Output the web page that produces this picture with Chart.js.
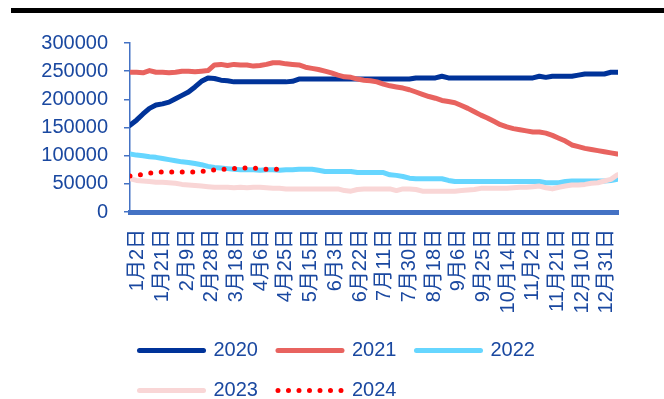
<!DOCTYPE html>
<html>
<head>
<meta charset="utf-8">
<script src="https://cdn.jsdelivr.net/npm/chart.js@4"></script>
<style>
	body { margin: 0; background: #fff; }
	#wrap { position: relative; width: 664px; height: 399px; }
	#topLine { position: absolute; left: 11px; top: 8px; width: 653px; height: 5px; background: #000; }
</style>
</head>
<body>
<div id="wrap">
	<div id="topLine"></div>
	<canvas id="stockCanvas" width="664" height="399"></canvas>
</div>
<script>
// 날짜 (1월2일 = 0 기준 일수)
const days = [-6, -1, 4, 9, 14, 19, 24, 29, 34, 39, 44, 49, 54, 59, 64, 69, 74, 79, 84, 89,
	94, 99, 104, 109, 114, 119, 124, 129, 134, 139, 144, 149, 154, 159, 164, 169, 174, 179, 184, 189,
	194, 199, 204, 209, 214, 219, 224, 229, 234, 239, 244, 249, 254, 259, 264, 269, 274, 279, 284, 289,
	294, 299, 304, 309, 314, 319, 324, 329, 334, 339, 344, 349, 354, 359, 364, 369];

// x축 눈금
const tickDays = [0, 19, 38, 57, 76, 95, 114, 133, 152, 171, 190, 209, 228, 247, 266, 285, 304, 323, 342, 361];
const tickLabels = ['1月2日', '1月21日', '2月9日', '2月28日', '3月18日', '4月6日', '4月25日', '5月15日', '6月3日', '6月22日',
	'7月11日', '7月30日', '8月18日', '9月6日', '9月25日', '10月14日', '11月2日', '11月21日', '12月10日', '12月31日'];

const s2020 = [154000, 163000, 174000, 184000, 190000, 192000, 195000, 201000, 207000, 213000,
	222000, 232000, 238000, 237000, 234000, 233000, 231000, 231000, 231000, 231000,
	231000, 231000, 231000, 231000, 231000, 232000, 236000, 236000, 236000, 236000,
	236000, 236000, 236000, 236000, 236000, 236000, 236000, 236000, 236000, 236000,
	236000, 236000, 236000, 236000, 238000, 238000, 238000, 238000, 241000, 238000,
	238000, 238000, 238000, 238000, 238000, 238000, 238000, 238000, 238000, 238000,
	238000, 238000, 238000, 241000, 239000, 241000, 241000, 241000, 241000, 243000,
	245000, 245000, 245000, 245000, 248000, 248000];
const s2021 = [248000, 248000, 247000, 251000, 248000, 248000, 247000, 248000, 250000, 250000,
	249000, 250000, 251000, 261000, 262000, 260000, 262000, 261000, 261000, 259000,
	260000, 262000, 265000, 265000, 263000, 262000, 261000, 257000, 255000, 253000,
	250000, 247000, 243000, 240000, 239000, 236000, 234000, 233000, 231000, 227000,
	224000, 222000, 220000, 217000, 213000, 209000, 205000, 202000, 198000, 196000,
	194000, 189000, 184000, 178000, 172000, 167000, 161000, 155000, 151000, 148000,
	146000, 144000, 142000, 142000, 140000, 136000, 131000, 126000, 119000, 116000,
	113000, 111000, 109000, 107000, 105000, 103000];
const s2022 = [103000, 101000, 100000, 98000, 97000, 95000, 93000, 91000, 89000, 88000,
	86000, 84000, 81000, 79000, 78000, 77000, 76000, 75000, 75000, 75000,
	74000, 75000, 75000, 74000, 75000, 75000, 76000, 76000, 76000, 74000,
	72000, 72000, 72000, 72000, 72000, 70000, 70000, 70000, 70000, 70000,
	66000, 65000, 63000, 60000, 59000, 59000, 59000, 59000, 59000, 56000,
	54000, 54000, 54000, 54000, 54000, 54000, 54000, 54000, 54000, 54000,
	54000, 54000, 54000, 54000, 52000, 52000, 52000, 54000, 55000, 55000,
	55000, 55000, 55000, 55000, 56000, 58000];
const s2023 = [59000, 56000, 55000, 54000, 53000, 53000, 52000, 51000, 49000, 48000,
	47000, 46000, 45000, 44000, 44000, 44000, 43000, 44000, 43000, 44000,
	44000, 43000, 42000, 42000, 41000, 41000, 41000, 41000, 41000, 41000,
	41000, 41000, 41000, 38000, 37000, 40000, 41000, 41000, 41000, 41000,
	41000, 38000, 41000, 41000, 40000, 37000, 37000, 37000, 37000, 37000,
	37000, 38000, 39000, 40000, 42000, 42000, 42000, 42000, 42000, 43000,
	44000, 44000, 45000, 46000, 43000, 41000, 44000, 46000, 48000, 48000,
	49000, 51000, 52000, 55000, 58000, 66000];
const s2024 = [64000, 65000, 67000, 69000, 70000, 71000, 71000, 71000, 71000, 71000,
	71000, 72000, 73000, 75000, 76000, 76000, 77000, 78000, 78000, 78000,
	77000, 76000, 76000, 76000];

const yTicks = [0, 50000, 100000, 150000, 200000, 250000, 300000];

const textColor = '#1a48a0';
const axisColor = '#4472c4';
const fontFamily = "'Liberation Sans', 'Noto Sans CJK SC', sans-serif";

const toPoints = (vals) => vals.map((v, i) => ({ x: days[i], y: v }));

const lineSet = (label, vals, color, order) => ({
	label: label,
	data: toPoints(vals),
	borderColor: color,
	backgroundColor: color,
	borderWidth: 5,
	borderCapStyle: 'round',
	borderJoinStyle: 'round',
	pointRadius: 0,
	tension: 0,
	order: order
});

const set2024 = lineSet('2024', s2024, '#ff0000', 1);
set2024.borderDash = [0, 10.5];

// 범례 위치 보정
const legendShift = {
	id: 'legendShift',
	afterLayout: (chart) => {
		chart.legend.left = 119.5;
	}
};

let ctx = document.getElementById('stockCanvas').getContext('2d');
let myChart = new Chart(ctx, {
	type: 'line',
	data: {
		datasets: [
			lineSet('2020', s2020, '#003399', 5),
			lineSet('2021', s2021, '#e8635f', 4),
			lineSet('2022', s2022, '#66d6ff', 3),
			lineSet('2023', s2023, '#f9d6d6', 2),
			set2024
		]
	},
	options: {
		responsive: false,
		animation: false,
		layout: { padding: { left: 34, right: 46, top: 43, bottom: 0 } },
		scales: {
			x: {
				type: 'linear',
				min: -6,
				max: 369.5,
				afterBuildTicks: (axis) => { axis.ticks = tickDays.map(v => ({ value: v })); },
				afterFit: (axis) => { axis.height = 108.5; },
				grid: { display: false, drawTicks: false },
				border: { display: true, color: axisColor, width: 5 },
				ticks: {
					autoSkip: false,
					minRotation: 90,
					maxRotation: 90,
					padding: 17,
					color: textColor,
					font: { size: 20, family: fontFamily },
					callback: (v) => tickLabels[tickDays.indexOf(v)]
				}
			},
			y: {
				min: 0,
				max: 300000,
				afterBuildTicks: (axis) => { axis.ticks = yTicks.map(v => ({ value: v })); },
				afterFit: (axis) => { axis.width = 96; },
				grid: { drawOnChartArea: false, tickLength: 6, color: axisColor, lineWidth: 1.5 },
				border: { display: true, color: axisColor, width: 1.5 },
				ticks: {
					padding: 16,
					color: textColor,
					font: { size: 20, family: fontFamily },
					callback: (v) => String(v)
				}
			}
		},
		plugins: {
			tooltip: { enabled: false },
			legend: {
				position: 'bottom',
				align: 'start',
				fullSize: false,
				maxHeight: 78.5,
				labels: {
					usePointStyle: true,
					pointStyle: 'line',
					pointStyleWidth: 64,
					padding: 20,
					color: textColor,
					font: { size: 20, family: fontFamily },
					sort: (a, b) => a.datasetIndex - b.datasetIndex,
					generateLabels: (chart) => {
						const items = Chart.defaults.plugins.legend.labels.generateLabels(chart);
						items.forEach(item => {
							const ds = chart.data.datasets[item.datasetIndex];
							item.lineWidth = ds.borderWidth;
							item.lineCap = 'round';
							item.lineDash = ds.borderDash || [];
						});
						return items;
					}
				}
			}
		}
	},
	plugins: [legendShift]
});
</script>
</body>
</html>
